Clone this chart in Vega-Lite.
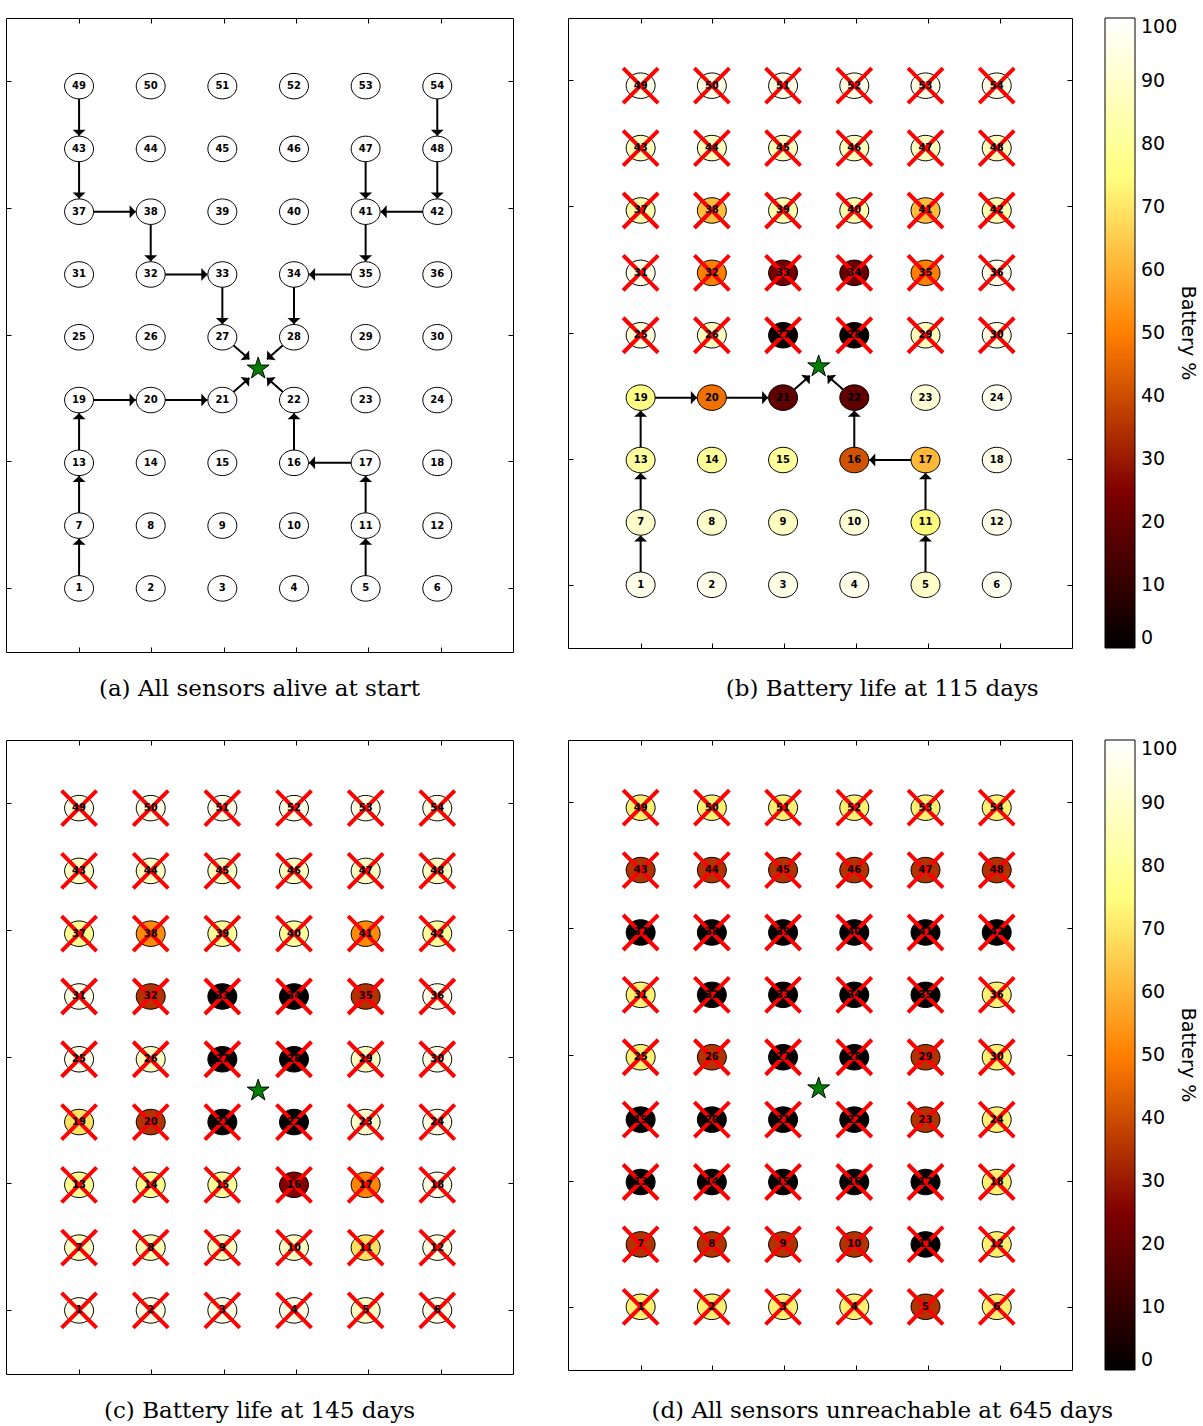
{
"$schema":"https://vega.github.io/schema/vega-lite/v6.json",
"background":"white",
"padding":{"left":5,"top":17,"right":0,"bottom":0},
"config":{"view":{"stroke":"black","strokeWidth":1},"legend":{"gradientVerticalMaxLength":700}},
"datasets":{
"star":[{"x":2.5,"y":3.5}],
"edges":[
{"x":0,"y":0.2,"x2":0,"y2":0.79,"dir":"up","lower":1},
{"x":0,"y":1.2,"x2":0,"y2":1.79,"dir":"up","lower":1},
{"x":0,"y":2.2,"x2":0,"y2":2.79,"dir":"up","lower":1},
{"x":0.2,"y":3,"x2":0.79,"y2":3,"dir":"right","lower":1},
{"x":1.2,"y":3,"x2":1.79,"y2":3,"dir":"right","lower":1},
{"x":2.154,"y":3.127,"x2":2.377,"y2":3.351,"dir":"ne","lower":1},
{"x":4,"y":0.2,"x2":4,"y2":0.79,"dir":"up","lower":1},
{"x":4,"y":1.2,"x2":4,"y2":1.79,"dir":"up","lower":1},
{"x":3.8,"y":2,"x2":3.21,"y2":2,"dir":"left","lower":1},
{"x":3,"y":2.2,"x2":3,"y2":2.79,"dir":"up","lower":1},
{"x":2.846,"y":3.127,"x2":2.623,"y2":3.351,"dir":"nw","lower":1},
{"x":0,"y":7.8,"x2":0,"y2":7.21,"dir":"down","lower":0},
{"x":0,"y":6.8,"x2":0,"y2":6.21,"dir":"down","lower":0},
{"x":0.2,"y":6,"x2":0.79,"y2":6,"dir":"right","lower":0},
{"x":1,"y":5.8,"x2":1,"y2":5.21,"dir":"down","lower":0},
{"x":1.2,"y":5,"x2":1.79,"y2":5,"dir":"right","lower":0},
{"x":2,"y":4.8,"x2":2,"y2":4.21,"dir":"down","lower":0},
{"x":2.154,"y":3.873,"x2":2.377,"y2":3.649,"dir":"se","lower":0},
{"x":5,"y":7.8,"x2":5,"y2":7.21,"dir":"down","lower":0},
{"x":5,"y":6.8,"x2":5,"y2":6.21,"dir":"down","lower":0},
{"x":4,"y":6.8,"x2":4,"y2":6.21,"dir":"down","lower":0},
{"x":4.8,"y":6,"x2":4.21,"y2":6,"dir":"left","lower":0},
{"x":4,"y":5.8,"x2":4,"y2":5.21,"dir":"down","lower":0},
{"x":3.8,"y":5,"x2":3.21,"y2":5,"dir":"left","lower":0},
{"x":3,"y":4.8,"x2":3,"y2":4.21,"dir":"down","lower":0},
{"x":2.846,"y":3.873,"x2":2.623,"y2":3.649,"dir":"sw","lower":0}
],
"grid":[
{"id":1,"col":0,"row":0,"b":96,"c":95,"d":72,"deadB":0},
{"id":2,"col":1,"row":0,"b":96,"c":95,"d":72,"deadB":0},
{"id":3,"col":2,"row":0,"b":95,"c":95,"d":72,"deadB":0},
{"id":4,"col":3,"row":0,"b":96,"c":95,"d":72,"deadB":0},
{"id":5,"col":4,"row":0,"b":89,"c":88,"d":35,"deadB":0},
{"id":6,"col":5,"row":0,"b":97,"c":95,"d":72,"deadB":0},
{"id":7,"col":0,"row":1,"b":90,"c":88,"d":35,"deadB":0},
{"id":8,"col":1,"row":1,"b":90,"c":86,"d":35,"deadB":0},
{"id":9,"col":2,"row":1,"b":88,"c":88,"d":35,"deadB":0},
{"id":10,"col":3,"row":1,"b":92,"c":88,"d":35,"deadB":0},
{"id":11,"col":4,"row":1,"b":74,"c":69,"d":0,"deadB":0},
{"id":12,"col":5,"row":1,"b":96,"c":94,"d":72,"deadB":0},
{"id":13,"col":0,"row":2,"b":81,"c":78,"d":0,"deadB":0},
{"id":14,"col":1,"row":2,"b":80,"c":78,"d":0,"deadB":0},
{"id":15,"col":2,"row":2,"b":80,"c":80,"d":0,"deadB":0},
{"id":16,"col":3,"row":2,"b":41,"c":25,"d":0,"deadB":0},
{"id":17,"col":4,"row":2,"b":61,"c":51,"d":0,"deadB":0},
{"id":18,"col":5,"row":2,"b":96,"c":95,"d":72,"deadB":0},
{"id":19,"col":0,"row":3,"b":76,"c":69,"d":0,"deadB":0},
{"id":20,"col":1,"row":3,"b":47,"c":35,"d":0,"deadB":0},
{"id":21,"col":2,"row":3,"b":19,"c":0,"d":0,"deadB":0},
{"id":22,"col":3,"row":3,"b":19,"c":0,"d":0,"deadB":0},
{"id":23,"col":4,"row":3,"b":92,"c":90,"d":35,"deadB":0},
{"id":24,"col":5,"row":3,"b":97,"c":95,"d":72,"deadB":0},
{"id":25,"col":0,"row":4,"b":93,"c":95,"d":72,"deadB":1},
{"id":26,"col":1,"row":4,"b":88,"c":88,"d":35,"deadB":1},
{"id":27,"col":2,"row":4,"b":1,"c":0,"d":0,"deadB":1},
{"id":28,"col":3,"row":4,"b":1,"c":0,"d":0,"deadB":1},
{"id":29,"col":4,"row":4,"b":87,"c":88,"d":35,"deadB":1},
{"id":30,"col":5,"row":4,"b":95,"c":95,"d":72,"deadB":1},
{"id":31,"col":0,"row":5,"b":95,"c":95,"d":72,"deadB":1},
{"id":32,"col":1,"row":5,"b":50,"c":35,"d":0,"deadB":1},
{"id":33,"col":2,"row":5,"b":22,"c":0,"d":0,"deadB":1},
{"id":34,"col":3,"row":5,"b":20,"c":0,"d":0,"deadB":1},
{"id":35,"col":4,"row":5,"b":50,"c":35,"d":0,"deadB":1},
{"id":36,"col":5,"row":5,"b":95,"c":95,"d":72,"deadB":1},
{"id":37,"col":0,"row":6,"b":83,"c":78,"d":0,"deadB":1},
{"id":38,"col":1,"row":6,"b":62,"c":52,"d":0,"deadB":1},
{"id":39,"col":2,"row":6,"b":84,"c":80,"d":0,"deadB":1},
{"id":40,"col":3,"row":6,"b":84,"c":80,"d":0,"deadB":1},
{"id":41,"col":4,"row":6,"b":62,"c":52,"d":0,"deadB":1},
{"id":42,"col":5,"row":6,"b":84,"c":80,"d":0,"deadB":1},
{"id":43,"col":0,"row":7,"b":87,"c":88,"d":35,"deadB":1},
{"id":44,"col":1,"row":7,"b":87,"c":88,"d":35,"deadB":1},
{"id":45,"col":2,"row":7,"b":87,"c":88,"d":35,"deadB":1},
{"id":46,"col":3,"row":7,"b":87,"c":88,"d":35,"deadB":1},
{"id":47,"col":4,"row":7,"b":87,"c":88,"d":35,"deadB":1},
{"id":48,"col":5,"row":7,"b":87,"c":88,"d":35,"deadB":1},
{"id":49,"col":0,"row":8,"b":95,"c":95,"d":72,"deadB":1},
{"id":50,"col":1,"row":8,"b":95,"c":95,"d":72,"deadB":1},
{"id":51,"col":2,"row":8,"b":95,"c":95,"d":72,"deadB":1},
{"id":52,"col":3,"row":8,"b":95,"c":95,"d":72,"deadB":1},
{"id":53,"col":4,"row":8,"b":95,"c":95,"d":72,"deadB":1},
{"id":54,"col":5,"row":8,"b":95,"c":95,"d":72,"deadB":1}
]
},
"spacing":37,
"resolve":{"scale":{"fill":"independent"},"legend":{"fill":"independent"}},
"vconcat":[
{"spacing":53,
 "resolve":{"scale":{"fill":"independent"},"legend":{"fill":"independent"}},
 "hconcat":[
 {"width":507,"height":634,
  "title":{"text":"(a) All sensors alive at start","orient":"bottom","anchor":"middle","frame":"bounds","offset":25,"font":"DejaVu Serif","fontSize":23,"fontWeight":"normal","color":"black"},
  "resolve":{"axis":{"x":"independent","y":"independent"}},
  "layer":[
   {"data":{"name":"edges"},"mark":{"type":"rule","color":"black","strokeWidth":2},
    "encoding":{"x":{"field":"x","type":"quantitative","scale":{"domain":[-1.02,6.057],"nice":false,"zero":false},"axis":{"orient":"bottom","values":[0,1.009,2.019,3.028,4.037,5.047],"labels":false,"domain":false,"grid":false,"tickSize":-5,"tickColor":"black","title":null}},
     "y":{"field":"y","type":"quantitative","scale":{"domain":[-1.013,9.085],"nice":false,"zero":false},"axis":{"orient":"left","values":[0,2.022,4.043,6.065,8.086],"labels":false,"domain":false,"grid":false,"tickSize":-5,"tickColor":"black","title":null}},
     "x2":{"field":"x2"},"y2":{"field":"y2"}}},
   {"data":{"name":"edges"},"mark":{"type":"point","shape":"M 0 0 L 0.93 0.86 L -0.93 0.86 Z","filled":true,"color":"black","size":196,"opacity":1},
    "encoding":{"x":{"field":"x2","type":"quantitative","scale":{"domain":[-1.02,6.057],"nice":false,"zero":false},"axis":{"orient":"top","values":[0,1.009,2.019,3.028,4.037,5.047],"labels":false,"domain":false,"grid":false,"tickSize":-5,"tickColor":"black","title":null}},
     "y":{"field":"y2","type":"quantitative","scale":{"domain":[-1.013,9.085],"nice":false,"zero":false},"axis":{"orient":"right","values":[0,2.022,4.043,6.065,8.086],"labels":false,"domain":false,"grid":false,"tickSize":-5,"tickColor":"black","title":null}},
     "angle":{"field":"dir","type":"nominal","scale":{"type":"ordinal","domain":["up","right","down","left","ne","se","sw","nw"],"range":[0,90,180,270,49,131,229,311]},"legend":null}}},
   {"data":{"name":"grid"},"mark":{"type":"point","shape":"M -1 0 A 1 0.88 0 1 1 1 0 A 1 0.88 0 1 1 -1 0 Z","filled":true,"fill":"white","stroke":"black","strokeWidth":1,"size":841,"opacity":1},
    "encoding":{"x":{"field":"col","type":"quantitative","scale":{"domain":[-1.02,6.057],"nice":false,"zero":false},"axis":null},
     "y":{"field":"row","type":"quantitative","scale":{"domain":[-1.013,9.085],"nice":false,"zero":false},"axis":null}}},
   {"data":{"name":"grid"},"mark":{"type":"text","font":"DejaVu Sans","fontWeight":"bold","fontSize":10,"color":"black","align":"center","baseline":"middle"},
    "encoding":{"x":{"field":"col","type":"quantitative","axis":null},"y":{"field":"row","type":"quantitative","axis":null},"text":{"field":"id","type":"nominal"}}},
   {"data":{"name":"star"},"mark":{"type":"point","shape":"M 0 -1 L 0.2245 -0.309 L 0.951 -0.309 L 0.3633 0.118 L 0.588 0.809 L 0 0.382 L -0.588 0.809 L -0.3633 0.118 L -0.951 -0.309 L -0.2245 -0.309 Z","filled":true,"fill":"#008000","stroke":"black","strokeWidth":1,"size":529,"opacity":1},
    "encoding":{"x":{"field":"x","type":"quantitative","axis":null},"y":{"field":"y","type":"quantitative","axis":null}}}
  ]},
 {"width":504,"height":630,
  "title":{"text":"(b) Battery life at 115 days","orient":"bottom","anchor":"middle","frame":"bounds","offset":29,"font":"DejaVu Serif","fontSize":23,"fontWeight":"normal","color":"black"},
  "resolve":{"axis":{"x":"independent","y":"independent"}},
  "layer":[
   {"data":{"name":"edges"},"transform":[{"filter":"datum.lower == 1"}],"mark":{"type":"rule","color":"black","strokeWidth":2},
    "encoding":{"x":{"field":"x","type":"quantitative","scale":{"domain":[-1.02,6.057],"nice":false,"zero":false},"axis":{"orient":"bottom","values":[0,1.009,2.019,3.028,4.037,5.047],"labels":false,"domain":false,"grid":false,"tickSize":-5,"tickColor":"black","title":null}},
     "y":{"field":"y","type":"quantitative","scale":{"domain":[-1.013,9.085],"nice":false,"zero":false},"axis":{"orient":"left","values":[0,2.022,4.043,6.065,8.086],"labels":false,"domain":false,"grid":false,"tickSize":-5,"tickColor":"black","title":null}},
     "x2":{"field":"x2"},"y2":{"field":"y2"}}},
   {"data":{"name":"edges"},"transform":[{"filter":"datum.lower == 1"}],"mark":{"type":"point","shape":"M 0 0 L 0.93 0.86 L -0.93 0.86 Z","filled":true,"color":"black","size":196,"opacity":1},
    "encoding":{"x":{"field":"x2","type":"quantitative","scale":{"domain":[-1.02,6.057],"nice":false,"zero":false},"axis":{"orient":"top","values":[0,1.009,2.019,3.028,4.037,5.047],"labels":false,"domain":false,"grid":false,"tickSize":-5,"tickColor":"black","title":null}},
     "y":{"field":"y2","type":"quantitative","scale":{"domain":[-1.013,9.085],"nice":false,"zero":false},"axis":{"orient":"right","values":[0,2.022,4.043,6.065,8.086],"labels":false,"domain":false,"grid":false,"tickSize":-5,"tickColor":"black","title":null}},
     "angle":{"field":"dir","type":"nominal","scale":{"type":"ordinal","domain":["up","right","down","left","ne","se","sw","nw"],"range":[0,90,180,270,49,131,229,311]},"legend":null}}},
   {"data":{"name":"grid"},"mark":{"type":"point","shape":"M -1 0 A 1 0.88 0 1 1 1 0 A 1 0.88 0 1 1 -1 0 Z","filled":true,"stroke":"black","strokeWidth":1,"size":841,"opacity":1},
    "encoding":{"x":{"field":"col","type":"quantitative","scale":{"domain":[-1.02,6.057],"nice":false,"zero":false},"axis":null},
     "y":{"field":"row","type":"quantitative","scale":{"domain":[-1.013,9.085],"nice":false,"zero":false},"axis":null},
     "fill":{"field":"b","type":"quantitative","scale":{"type":"linear","domain":[0,25,50,75,100],"range":["#000000","#800000","#ff8000","#ffff80","#ffffff"],"interpolate":"rgb"},
      "legend":{"type":"gradient","title":"Battery %","orient":"right","offset":32,"direction":"vertical","gradientLength":630,"gradientThickness":30,"gradientStrokeColor":"black","gradientStrokeWidth":1,"values":[0,10,20,30,40,50,60,70,80,90,100],"labelFont":"DejaVu Sans","labelFontSize":19,"labelColor":"black","labelOffset":6,"titleOrient":"right","titleFont":"DejaVu Sans","titleFontSize":19,"titleFontWeight":"normal","titleColor":"black","titleAnchor":"middle","titlePadding":1,"padding":0}}}},
   {"data":{"name":"grid"},"transform":[{"filter":"datum.deadB == 1"}],"mark":{"type":"point","shape":"M -1 -1 L 1 1 M -1 1 L 1 -1","filled":false,"color":"#ff0000","strokeWidth":4,"size":1225,"opacity":1},
    "encoding":{"x":{"field":"col","type":"quantitative","axis":null},"y":{"field":"row","type":"quantitative","axis":null}}},
   {"data":{"name":"grid"},"mark":{"type":"text","font":"DejaVu Sans","fontWeight":"bold","fontSize":10,"color":"black","align":"center","baseline":"middle"},
    "encoding":{"x":{"field":"col","type":"quantitative","axis":null},"y":{"field":"row","type":"quantitative","axis":null},"text":{"field":"id","type":"nominal"}}},
   {"data":{"name":"star"},"mark":{"type":"point","shape":"M 0 -1 L 0.2245 -0.309 L 0.951 -0.309 L 0.3633 0.118 L 0.588 0.809 L 0 0.382 L -0.588 0.809 L -0.3633 0.118 L -0.951 -0.309 L -0.2245 -0.309 Z","filled":true,"fill":"#008000","stroke":"black","strokeWidth":1,"size":529,"opacity":1},
    "encoding":{"x":{"field":"x","type":"quantitative","axis":null},"y":{"field":"y","type":"quantitative","axis":null}}}
  ]}
 ]},
{"spacing":53,
 "resolve":{"scale":{"fill":"independent"},"legend":{"fill":"independent"}},
 "hconcat":[
 {"width":507,"height":634,
  "title":{"text":"(c) Battery life at 145 days","orient":"bottom","anchor":"middle","frame":"bounds","offset":25,"font":"DejaVu Serif","fontSize":23,"fontWeight":"normal","color":"black"},
  "resolve":{"axis":{"x":"independent","y":"independent"}},
  "layer":[
   {"data":{"name":"grid"},"mark":{"type":"point","shape":"M -1 0 A 1 0.88 0 1 1 1 0 A 1 0.88 0 1 1 -1 0 Z","filled":true,"stroke":"black","strokeWidth":1,"size":841,"opacity":1},
    "encoding":{"x":{"field":"col","type":"quantitative","scale":{"domain":[-1.02,6.057],"nice":false,"zero":false},"axis":{"orient":"bottom","values":[0,1.009,2.019,3.028,4.037,5.047],"labels":false,"domain":false,"grid":false,"tickSize":-5,"tickColor":"black","title":null}},
     "y":{"field":"row","type":"quantitative","scale":{"domain":[-1.013,9.085],"nice":false,"zero":false},"axis":{"orient":"left","values":[0,2.022,4.043,6.065,8.086],"labels":false,"domain":false,"grid":false,"tickSize":-5,"tickColor":"black","title":null}},
     "fill":{"field":"c","type":"quantitative","scale":{"type":"linear","domain":[0,25,50,75,100],"range":["#000000","#800000","#ff8000","#ffff80","#ffffff"],"interpolate":"rgb"},"legend":null}}},
   {"data":{"name":"grid"},"mark":{"type":"point","shape":"M -1 -1 L 1 1 M -1 1 L 1 -1","filled":false,"color":"#ff0000","strokeWidth":4,"size":1225,"opacity":1},
    "encoding":{"x":{"field":"col","type":"quantitative","axis":{"orient":"top","values":[0,1.009,2.019,3.028,4.037,5.047],"labels":false,"domain":false,"grid":false,"tickSize":-5,"tickColor":"black","title":null}},"y":{"field":"row","type":"quantitative","axis":{"orient":"right","values":[0,2.022,4.043,6.065,8.086],"labels":false,"domain":false,"grid":false,"tickSize":-5,"tickColor":"black","title":null}}}},
   {"data":{"name":"grid"},"mark":{"type":"text","font":"DejaVu Sans","fontWeight":"bold","fontSize":10,"color":"black","align":"center","baseline":"middle"},
    "encoding":{"x":{"field":"col","type":"quantitative","axis":null},"y":{"field":"row","type":"quantitative","axis":null},"text":{"field":"id","type":"nominal"}}},
   {"data":{"name":"star"},"mark":{"type":"point","shape":"M 0 -1 L 0.2245 -0.309 L 0.951 -0.309 L 0.3633 0.118 L 0.588 0.809 L 0 0.382 L -0.588 0.809 L -0.3633 0.118 L -0.951 -0.309 L -0.2245 -0.309 Z","filled":true,"fill":"#008000","stroke":"black","strokeWidth":1,"size":529,"opacity":1},
    "encoding":{"x":{"field":"x","type":"quantitative","axis":null},"y":{"field":"y","type":"quantitative","axis":null}}}
  ]},
 {"width":504,"height":630,
  "title":{"text":"(d) All sensors unreachable at 645 days","orient":"bottom","anchor":"middle","frame":"bounds","offset":29,"font":"DejaVu Serif","fontSize":23,"fontWeight":"normal","color":"black"},
  "resolve":{"axis":{"x":"independent","y":"independent"}},
  "layer":[
   {"data":{"name":"grid"},"mark":{"type":"point","shape":"M -1 0 A 1 0.88 0 1 1 1 0 A 1 0.88 0 1 1 -1 0 Z","filled":true,"stroke":"black","strokeWidth":1,"size":841,"opacity":1},
    "encoding":{"x":{"field":"col","type":"quantitative","scale":{"domain":[-1.02,6.057],"nice":false,"zero":false},"axis":{"orient":"bottom","values":[0,1.009,2.019,3.028,4.037,5.047],"labels":false,"domain":false,"grid":false,"tickSize":-5,"tickColor":"black","title":null}},
     "y":{"field":"row","type":"quantitative","scale":{"domain":[-1.013,9.085],"nice":false,"zero":false},"axis":{"orient":"left","values":[0,2.022,4.043,6.065,8.086],"labels":false,"domain":false,"grid":false,"tickSize":-5,"tickColor":"black","title":null}},
     "fill":{"field":"d","type":"quantitative","scale":{"type":"linear","domain":[0,25,50,75,100],"range":["#000000","#800000","#ff8000","#ffff80","#ffffff"],"interpolate":"rgb"},
      "legend":{"type":"gradient","title":"Battery %","orient":"right","offset":32,"direction":"vertical","gradientLength":630,"gradientThickness":30,"gradientStrokeColor":"black","gradientStrokeWidth":1,"values":[0,10,20,30,40,50,60,70,80,90,100],"labelFont":"DejaVu Sans","labelFontSize":19,"labelColor":"black","labelOffset":6,"titleOrient":"right","titleFont":"DejaVu Sans","titleFontSize":19,"titleFontWeight":"normal","titleColor":"black","titleAnchor":"middle","titlePadding":1,"padding":0}}}},
   {"data":{"name":"grid"},"mark":{"type":"point","shape":"M -1 -1 L 1 1 M -1 1 L 1 -1","filled":false,"color":"#ff0000","strokeWidth":4,"size":1225,"opacity":1},
    "encoding":{"x":{"field":"col","type":"quantitative","axis":{"orient":"top","values":[0,1.009,2.019,3.028,4.037,5.047],"labels":false,"domain":false,"grid":false,"tickSize":-5,"tickColor":"black","title":null}},"y":{"field":"row","type":"quantitative","axis":{"orient":"right","values":[0,2.022,4.043,6.065,8.086],"labels":false,"domain":false,"grid":false,"tickSize":-5,"tickColor":"black","title":null}}}},
   {"data":{"name":"grid"},"mark":{"type":"text","font":"DejaVu Sans","fontWeight":"bold","fontSize":10,"color":"black","align":"center","baseline":"middle"},
    "encoding":{"x":{"field":"col","type":"quantitative","axis":null},"y":{"field":"row","type":"quantitative","axis":null},"text":{"field":"id","type":"nominal"}}},
   {"data":{"name":"star"},"mark":{"type":"point","shape":"M 0 -1 L 0.2245 -0.309 L 0.951 -0.309 L 0.3633 0.118 L 0.588 0.809 L 0 0.382 L -0.588 0.809 L -0.3633 0.118 L -0.951 -0.309 L -0.2245 -0.309 Z","filled":true,"fill":"#008000","stroke":"black","strokeWidth":1,"size":529,"opacity":1},
    "encoding":{"x":{"field":"x","type":"quantitative","axis":null},"y":{"field":"y","type":"quantitative","axis":null}}}
  ]}
 ]}
]
}
